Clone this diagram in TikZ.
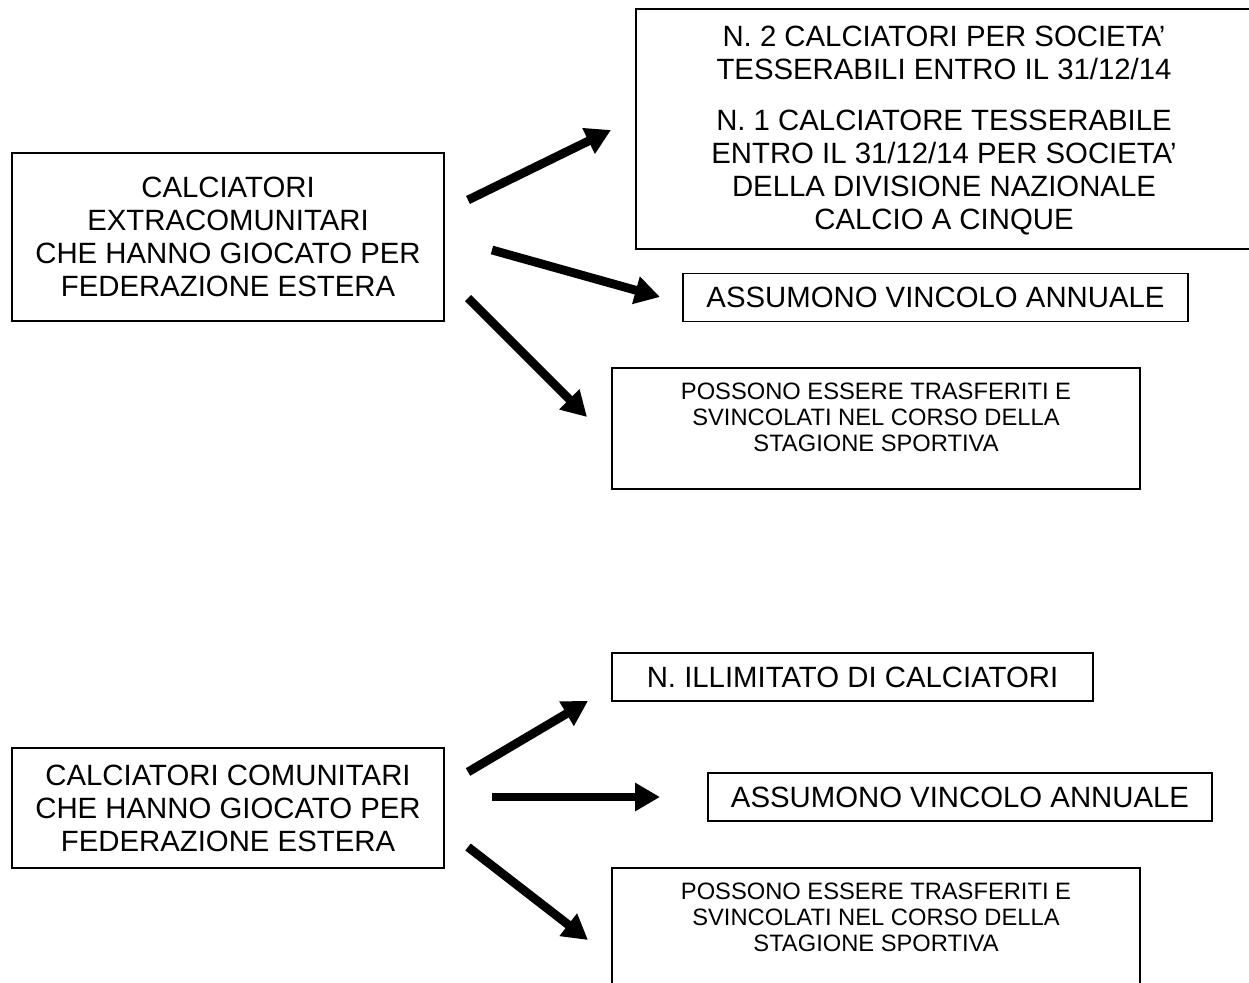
\documentclass[tikz,border=0pt]{standalone}
\usepackage{fontspec}
\setmainfont{Liberation Sans}
\usetikzlibrary{arrows.meta}

\begin{document}
\begin{tikzpicture}[x=0.02cm, y=-0.02cm,
    box/.style={draw, line width=1.1pt, align=center, inner sep=0pt, font=\fontsize{16.7}{18.8}\selectfont},
    piccolo/.style={box, font=\fontsize{13.5}{14.8}\selectfont},
    freccia/.style={line width=5pt, -{Triangle[length=0.5cm, width=0.54cm]}}]
    \useasboundingbox (0,0) rectangle (1249,983);

    % extracomunitari
    \node[box, minimum width=8.64cm, minimum height=3.36cm] (extra) at (228,237) {CALCIATORI\\EXTRACOMUNITARI\\CHE HANNO GIOCATO PER\\FEDERAZIONE ESTERA};
    \node[box, minimum width=12.32cm, minimum height=4.8cm] (regole) at (944,129) {N. 2 CALCIATORI PER SOCIETA’\\TESSERABILI ENTRO IL 31/12/14\\[0.36cm]N. 1 CALCIATORE TESSERABILE\\ENTRO IL 31/12/14 PER SOCIETA’\\DELLA DIVISIONE NAZIONALE\\CALCIO A CINQUE\\[-0.62cm]};
    \node[box, minimum width=10.1cm, minimum height=0.96cm] (annuale1) at (935.5,297.5) {ASSUMONO VINCOLO ANNUALE};
    \node[piccolo, minimum width=10.56cm, minimum height=2.42cm] (trasf1) at (876,428.5) {POSSONO ESSERE TRASFERITI E\\SVINCOLATI NEL CORSO DELLA\\STAGIONE SPORTIVA\\[-0.06cm]};

    % comunitari
    \node[box, minimum width=8.64cm, minimum height=2.4cm] (comu) at (228,808) {CALCIATORI COMUNITARI\\CHE HANNO GIOCATO PER\\FEDERAZIONE ESTERA};
    \node[box, minimum width=9.62cm, minimum height=0.96cm] (illim) at (852.5,677) {N. ILLIMITATO DI CALCIATORI};
    \node[box, minimum width=10.08cm, minimum height=0.96cm] (annuale2) at (960,797) {ASSUMONO VINCOLO ANNUALE};
    \node[piccolo, minimum width=10.56cm, minimum height=2.42cm] (trasf2) at (876,928.5) {POSSONO ESSERE TRASFERITI E\\SVINCOLATI NEL CORSO DELLA\\STAGIONE SPORTIVA\\[-0.06cm]};

    % frecce
    \coordinate (a1) at (468,200);
    \coordinate (a2) at (492,250);
    \coordinate (a3) at (468,298);
    \coordinate (t1) at (611,130);
    \coordinate (t2) at (660,297);
    \coordinate (t3) at (587,417);
    \draw[freccia] (a1) -- (t1);
    \draw[freccia] (a2) -- (t2);
    \draw[freccia] (a3) -- (t3);

    \coordinate (b1) at (468,772);
    \coordinate (b2) at (492,797);
    \coordinate (b3) at (468,847);
    \coordinate (u1) at (588,701);
    \coordinate (u2) at (660,797);
    \coordinate (u3) at (588,940);
    \draw[freccia] (b1) -- (u1);
    \draw[freccia] (b2) -- (u2);
    \draw[freccia] (b3) -- (u3);

\end{tikzpicture}
\end{document}
